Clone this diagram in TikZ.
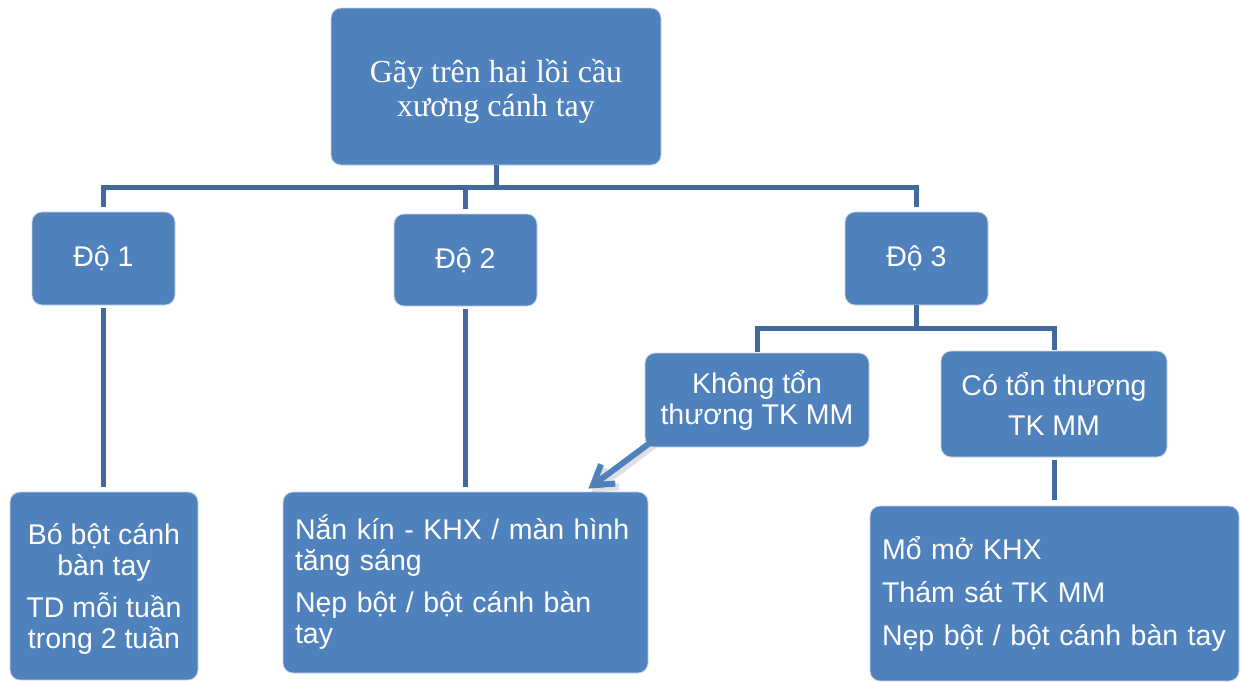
\documentclass[tikz,border=0pt]{standalone}
\usepackage{fontspec}
\setmainfont{Liberation Sans}
\newfontfamily\serifvn{Liberation Serif}
\usetikzlibrary{arrows.meta}
\definecolor{boxblue}{HTML}{4F81BD}
\definecolor{connblue}{HTML}{41699B}
\definecolor{edgeblue}{HTML}{C9D5E6}
\tikzset{
  box/.style={draw=edgeblue, line width=0.8pt, fill=boxblue, rounded corners=10pt, text=white,
    inner sep=0pt, font=\fontsize{28.5}{31}\selectfont},
  conn/.style={draw=connblue, line width=5pt},
  arr/.style={draw=boxblue, line width=6pt, -{Straight Barb[length=19pt,width=24pt]}},
  arrshadow/.style={draw=black, line width=7pt, opacity=0.12, -{Straight Barb[length=19pt,width=24pt]}},
}
\begin{document}
\begin{tikzpicture}[x=1pt,y=-1pt]
\useasboundingbox (0,0) rectangle (1241,681);
% nodes
\node[box, minimum width=330pt, minimum height=157pt,
  font=\serifvn\fontsize{32}{34}\selectfont] (top) at (496,86.5)
  {\parbox[c]{300pt}{\vspace*{9pt}\centering Gãy trên hai lồi cầu\\xương cánh tay}};
\node[box, minimum width=143pt, minimum height=93pt] (d1) at (103.5,258.5) {Độ 1};
\node[box, minimum width=143pt, minimum height=92pt] (d2) at (465.5,260) {Độ 2};
\node[box, minimum width=143pt, minimum height=93pt] (d3) at (916.5,258.5) {Độ 3};
\node[box, minimum width=224pt, minimum height=94pt, align=center] (kh) at (757,400)
  {Không tổn\\thương TK MM};
\node[box, minimum width=226pt, minimum height=106pt, align=center] (co) at (1054,404)
  {Có tổn thương\\[9pt]TK MM};
\node[box, minimum width=188pt, minimum height=188pt] (bo) at (104,586)
  {\parbox[c]{180pt}{\vspace*{6pt}\centering Bó bột cánh\\bàn tay\\[11pt]TD mỗi tuần\\trong 2 tuần}};
\node[box, minimum width=365pt, minimum height=181pt, align=left, text width=341pt] (nan) at (465.5,582.5)
  {Nắn kín - KHX / màn hình\\tăng sáng\\[11pt]Nẹp bột / bột cánh bàn\\tay};
\node[box, minimum width=369pt, minimum height=175pt, align=left, text width=345pt] (mo) at (1054.5,593.5)
  {Mổ mở KHX\\[12pt]Thám sát TK MM\\[12pt]Nẹp bột / bột cánh bàn tay};
% bus coordinates
\coordinate (bus) at (0,187);
\coordinate (bus2) at (0,328);
% connectors
\draw[conn] (top.south) -- (top.south |- bus);
\draw[conn] ([yshift=5pt]d1.north) -- (d1.north |- bus) -- (d3.north |- bus) -- ([yshift=5pt]d3.north);
\draw[conn] ([yshift=5pt]d2.north) -- (d2.north |- bus);
\draw[conn] ([yshift=-3pt]d1.south) -- ([yshift=5pt]d1.south |- bo.north);
\draw[conn] ([yshift=-3pt]d2.south) -- ([yshift=5pt]d2.south |- nan.north);
\draw[conn] (d3.south) -- (d3.south |- bus2);
\draw[conn] ([yshift=1pt]kh.north) -- (kh.north |- bus2) -- (co.north |- bus2) -- ([yshift=1pt]co.north);
\draw[conn] ([yshift=-3pt]co.south) -- ([yshift=6pt]co.south |- mo.north);
% arrow
\draw[arrshadow] ([shift={(9,-2)}]kh.south west) -- ([shift={(-57,1)}]nan.north east);
\draw[arr] ([shift={(6,-5)}]kh.south west) -- ([shift={(-60,-3)}]nan.north east);
\end{tikzpicture}
\end{document}
